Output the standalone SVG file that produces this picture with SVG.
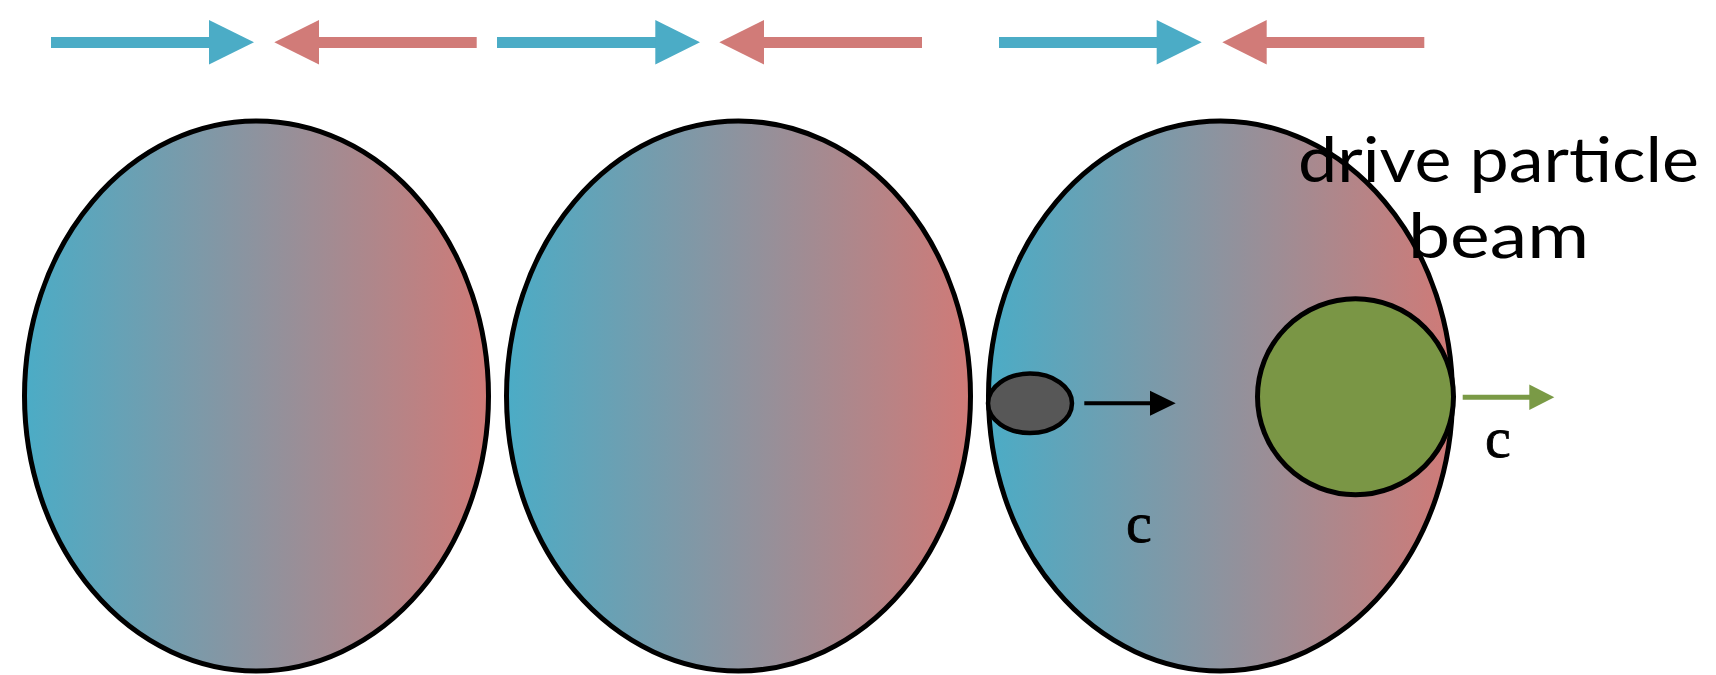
<svg xmlns="http://www.w3.org/2000/svg" width="1716" height="675" viewBox="0 0 1716 675">
<defs>
<linearGradient id="grad" x1="0" y1="0" x2="1" y2="0">
<stop offset="0" stop-color="#4BACC6"/>
<stop offset="1" stop-color="#D07A77"/>
</linearGradient>
<style>
.cell{fill:url(#grad);stroke:#000;stroke-width:5}
.blue{fill:#4BACC6}
.red{fill:#D17B78}
.lbl{font-family:Lato,"Liberation Sans",sans-serif;font-size:62px;fill:#000}
.c{font-family:"Liberation Serif",serif;font-size:58px;fill:#000;stroke:#000;stroke-width:0.8}
</style>
</defs>
<rect width="1716" height="675" fill="#fff"/>
<g id="cell1"><ellipse class="cell" cx="256.5" cy="396" rx="232" ry="275"/></g>
<g id="cell2"><ellipse class="cell" cx="738.5" cy="396" rx="232" ry="275"/></g>
<g id="cell3"><ellipse class="cell" cx="1220.5" cy="396" rx="232" ry="275"/></g>
<g id="witness"><ellipse cx="1030" cy="403.3" rx="42" ry="29.7" fill="#575757" stroke="#000" stroke-width="4.5"/></g>
<g id="drive"><circle cx="1355.5" cy="396.7" r="98" fill="#7A9645" stroke="#000" stroke-width="5"/></g>
<g id="connectors">
<rect class="blue" x="51" y="37" width="160" height="11"/>
<polygon class="blue" points="209,20 254,42.3 209,64.5"/>
<polygon class="red" points="274.3,42.3 319,20 319,64.5"/>
<rect class="red" x="317" y="37" width="159.7" height="11"/>
<rect class="blue" x="497" y="37" width="160" height="11"/>
<polygon class="blue" points="655.3,20 700,42.3 655.3,64.5"/>
<polygon class="red" points="719.3,42.3 764,20 764,64.5"/>
<rect class="red" x="762" y="37" width="160" height="11"/>
<rect class="blue" x="999" y="37" width="159.7" height="11"/>
<polygon class="blue" points="1156.7,20 1201.7,42.3 1156.7,64.5"/>
<polygon class="red" points="1222.3,42.3 1266.7,20 1266.7,64.5"/>
<rect class="red" x="1264.7" y="37" width="159.6" height="11"/>
<line x1="1084.3" y1="403.3" x2="1152" y2="403.3" stroke="#000" stroke-width="4"/>
<polygon points="1150,390.8 1175.7,403.3 1150,415.8" fill="#000"/>
<line x1="1462.7" y1="397.3" x2="1531" y2="397.3" stroke="#7A9A46" stroke-width="5"/>
<polygon points="1529.3,384.5 1554.3,397.3 1529.3,410" fill="#7A9A46"/>
</g>
<g id="labels">
<text class="lbl" x="1498.5" y="181.7" text-anchor="middle" textLength="401" lengthAdjust="spacingAndGlyphs">drive particle</text>
<text class="lbl" x="1498.5" y="258" text-anchor="middle" textLength="181" lengthAdjust="spacingAndGlyphs">beam</text>
<text class="c" x="1485" y="457">c</text>
<text class="c" x="1126" y="542">c</text>
</g>
</svg>
